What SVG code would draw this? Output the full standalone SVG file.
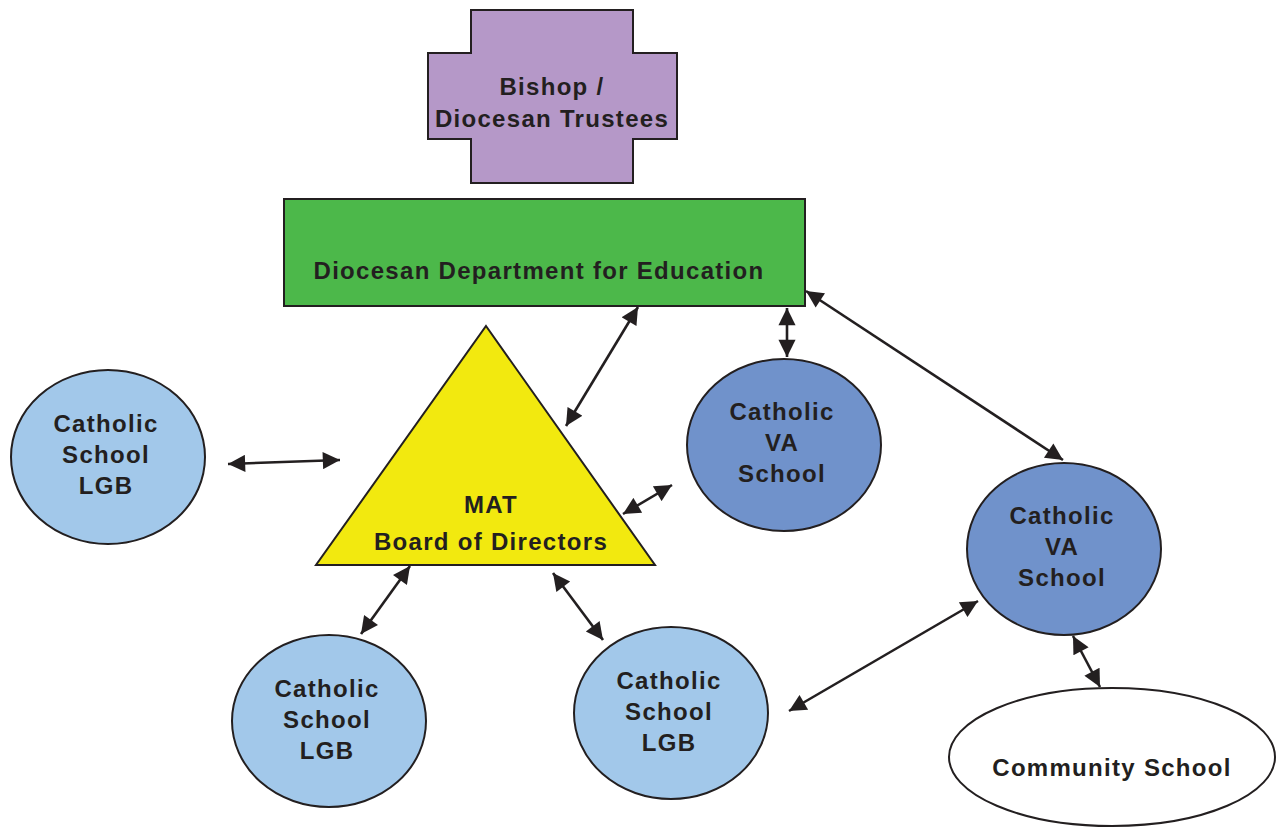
<svg xmlns="http://www.w3.org/2000/svg" width="1284" height="827" viewBox="0 0 1284 827">
<defs>
<marker id="ah" viewBox="0 0 10 10" refX="10" refY="5" markerWidth="7.4" markerHeight="6.6" markerUnits="strokeWidth" orient="auto-start-reverse">
<path d="M0,0 L10,5 L0,10 z" fill="#231f20"/>
</marker>
<style>
.sh{stroke:#231f20;stroke-width:2}
.t{font-family:"Liberation Sans",Arial,sans-serif;font-weight:bold;font-size:24px;letter-spacing:1.3px;fill:#231f20;text-anchor:middle}
.c{stroke:#231f20;stroke-width:2.6;fill:none;marker-start:url(#ah);marker-end:url(#ah)}
.lgb{fill:#a2c8ea}
.va{fill:#7092cb}
</style>
</defs>
<rect width="1284" height="827" fill="#ffffff"/>
<g id="bishop">
<path class="sh" fill="#b598c8" d="M471,10 H633 V53 H677 V139 H633 V183 H471 V139 H428 V53 H471 Z"/>
<text class="t" x="552" y="95">Bishop /</text>
<text class="t" x="552" y="127">Diocesan Trustees</text>
</g>
<g id="dde">
<rect class="sh" fill="#4cb84a" x="284" y="199" width="521" height="107"/>
<text class="t" x="539" y="279">Diocesan Department for Education</text>
</g>
<g id="mat">
<path class="sh" fill="#f2e90f" d="M486,326 L655,565 L316,565 Z"/>
<text class="t" x="491" y="513">MAT</text>
<text class="t" x="491" y="550">Board of Directors</text>
</g>
<g id="lgb1">
<ellipse class="sh lgb" cx="108" cy="457" rx="97" ry="87"/>
<text class="t" x="106" y="432">Catholic</text>
<text class="t" x="106" y="463">School</text>
<text class="t" x="106" y="494">LGB</text>
</g>
<g id="va1">
<ellipse class="sh va" cx="784" cy="445" rx="97" ry="86"/>
<text class="t" x="782" y="420">Catholic</text>
<text class="t" x="782" y="451">VA</text>
<text class="t" x="782" y="482">School</text>
</g>
<g id="va2">
<ellipse class="sh va" cx="1064" cy="549" rx="97" ry="86"/>
<text class="t" x="1062" y="524">Catholic</text>
<text class="t" x="1062" y="555">VA</text>
<text class="t" x="1062" y="586">School</text>
</g>
<g id="lgb2">
<ellipse class="sh lgb" cx="329" cy="721" rx="97" ry="86"/>
<text class="t" x="327" y="697">Catholic</text>
<text class="t" x="327" y="728">School</text>
<text class="t" x="327" y="759">LGB</text>
</g>
<g id="lgb3">
<ellipse class="sh lgb" cx="671" cy="713" rx="97" ry="86"/>
<text class="t" x="669" y="689">Catholic</text>
<text class="t" x="669" y="720">School</text>
<text class="t" x="669" y="751">LGB</text>
</g>
<g id="community">
<ellipse class="sh" fill="#ffffff" cx="1112" cy="757" rx="163" ry="69"/>
<text class="t" x="1112" y="776">Community School</text>
</g>
<g id="connectors">
<line class="c" x1="638" y1="307" x2="566" y2="426"/>
<line class="c" x1="787" y1="308" x2="787" y2="357"/>
<line class="c" x1="806" y1="291" x2="1063" y2="460"/>
<line class="c" x1="228" y1="464" x2="340" y2="460"/>
<line class="c" x1="672" y1="485" x2="623" y2="514"/>
<line class="c" x1="410" y1="566" x2="361" y2="634"/>
<line class="c" x1="553" y1="573" x2="603" y2="640"/>
<line class="c" x1="978" y1="601" x2="789" y2="711"/>
<line class="c" x1="1073" y1="636" x2="1100" y2="687"/>
</g>
</svg>
